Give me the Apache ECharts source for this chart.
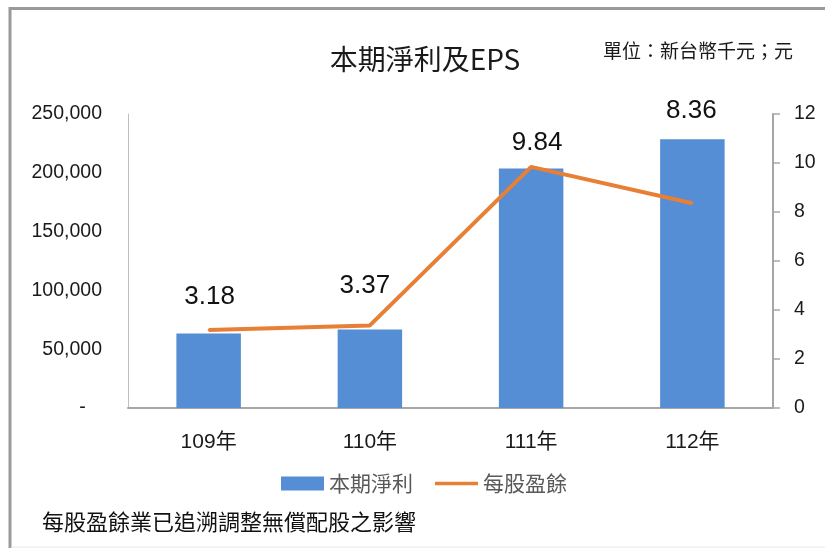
<!DOCTYPE html>
<html>
<head>
<meta charset="utf-8">
<script src="https://cdn.jsdelivr.net/npm/echarts@6/dist/echarts.min.js"></script>
<style>
  html, body { margin: 0; padding: 0; background: #fff; }
  #chart { width: 825px; height: 548px; }
</style>
</head>
<body>
<div id="chart"></div>
<script>
  // 資料
  var years = ['109年', '110年', '111年', '112年']
  var netIncome = [63300, 66700, 203600, 228500]
  var eps = [3.18, 3.37, 9.84, 8.36]
  // 標籤位移 (Excel 圖上手動拖過的位置)
  var epsLabelOffsets = [[1, -33], [-5, -40], [6, -24], [-1, -92]]

  var font = '"Liberation Sans", "Noto Sans CJK TC", sans-serif'
  var cjkFont = '"Noto Sans CJK TC", sans-serif'

  var chart = echarts.init(document.getElementById('chart'))
  var option = {
    animation: false,
    title: [
      {
        text: '本期淨利及EPS',
        left: 420,
        top: 40,
        textAlign: 'center',
        textStyle: { fontFamily: cjkFont, fontSize: 28, fontWeight: 'normal', color: '#1a1a1a' }
      },
      {
        text: '單位：新台幣千元；元',
        left: 693,
        top: 36,
        textAlign: 'center',
        textStyle: { fontFamily: cjkFont, fontSize: 19, fontWeight: 'normal', color: '#1a1a1a' }
      }
    ],
    legend: {
      left: 276,
      top: 468,
      itemWidth: 43,
      itemHeight: 14,
      itemGap: 22,
      textStyle: { fontFamily: cjkFont, fontSize: 21, color: '#595959' },
      data: [
        { name: '本期淨利', icon: 'rect' },
        { name: '每股盈餘', icon: 'path://M0,0H46V4H0Z' }
      ]
    },
    grid: { left: 128, right: 52, top: 114, bottom: 140 },
    xAxis: {
      type: 'category',
      data: years,
      axisLine: { lineStyle: { color: '#a6a6a6', width: 2 } },
      axisTick: { show: false },
      axisLabel: { margin: 24, fontFamily: font, fontSize: 21, color: '#1a1a1a' }
    },
    yAxis: [
      {
        type: 'value',
        min: 0,
        max: 250000,
        interval: 50000,
        splitLine: { show: false },
        axisLine: { show: true, lineStyle: { color: '#bfbfbf' } },
        axisTick: { show: false },
        axisLabel: {
          margin: 26,
          fontFamily: font,
          fontSize: 19.5,
          color: '#1a1a1a',
          formatter: function (v) {
            return v === 0 ? '-   ' : v.toLocaleString('en-US')
          }
        }
      },
      {
        type: 'value',
        min: 0,
        max: 12,
        interval: 2,
        splitLine: { show: false },
        axisLine: { show: true, lineStyle: { color: '#a6a6a6', width: 2 } },
        axisTick: { show: true, length: 7, lineStyle: { color: '#a6a6a6', width: 1.5 } },
        axisLabel: { margin: 21, fontFamily: font, fontSize: 19.5, color: '#1a1a1a' }
      }
    ],
    series: [
      {
        name: '本期淨利',
        type: 'bar',
        barWidth: '40%',
        itemStyle: { color: '#558ed5' },
        data: netIncome
      },
      {
        name: '每股盈餘',
        type: 'line',
        yAxisIndex: 1,
        symbol: 'circle',
        symbolSize: 2,
        lineStyle: { color: '#e77f35', width: 4 },
        itemStyle: { color: '#e77f35' },
        label: {
          show: true,
          position: 'inside',
          fontFamily: font,
          fontSize: 26,
          color: '#111'
        },
        data: eps.map(function (v, i) {
          return { value: v, label: { offset: epsLabelOffsets[i] } }
        })
      }
    ],
    graphic: [
      { type: 'line', shape: { x1: 10, y1: 8.5, x2: 825, y2: 8.5 }, style: { stroke: '#9a9a9a', lineWidth: 3 } },
      { type: 'line', shape: { x1: 10, y1: 7, x2: 10, y2: 548 }, style: { stroke: '#9a9a9a', lineWidth: 3 } },
      { type: 'line', shape: { x1: 11, y1: 547, x2: 825, y2: 547 }, style: { stroke: '#e8e8e8', lineWidth: 1 } },
      {
        type: 'text',
        left: 42,
        top: 511,
        style: { text: '每股盈餘業已追溯調整無償配股之影響', font: '22px ' + cjkFont, fill: '#111' }
      }
    ]
  }
  chart.setOption(option)
</script>
</body>
</html>
